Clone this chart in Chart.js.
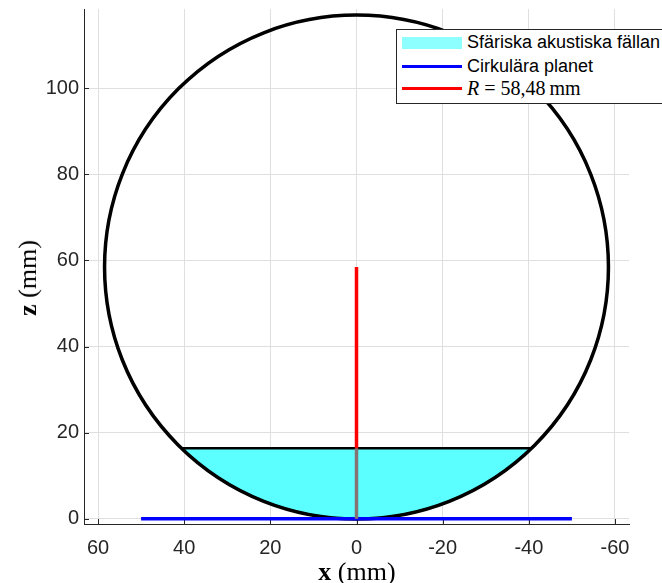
<!DOCTYPE html>
<html>
<head>
<meta charset="utf-8">
<script src="https://cdn.jsdelivr.net/npm/chart.js@4/dist/chart.umd.min.js"></script>
<style>
  html, body { margin: 0; padding: 0; background: #fff; overflow: hidden; }
  #wrap { position: relative; width: 662px; height: 583px; }
  #chart { position: absolute; left: 0; top: 0; }
  .legend { position: absolute; left: 396px; top: 29px; width: 300px; height: 75px;
            border: 1px solid #262626; background: #fff; box-sizing: border-box; }
  .sw { position: absolute; left: 5px; width: 60px; }
  .lbl { position: absolute; left: 70px; height: 22px; line-height: 22px; white-space: nowrap;
         font-family: "Liberation Sans", Arial, sans-serif; font-size: 18px; color: #000; }
  .tex { font-family: "Liberation Serif", "Times New Roman", serif; font-size: 20px; }
  .ax { position: absolute; white-space: nowrap; line-height: 1;
        font-family: "Liberation Serif", "Times New Roman", serif; font-size: 26px; color: #000; }
</style>
</head>
<body>
<div id="wrap">
  <canvas id="chart" width="662" height="583"></canvas>
  <div class="legend" id="legend"></div>
  <div class="ax" id="xTitle" style="left:357px; top:572px; transform:translate(-50%,-50%);"><b>x</b> (mm)</div>
  <div class="ax" id="yTitle" style="left:28px; top:278px; transform:translate(-50%,-50%) rotate(-90deg);"><b>z</b> (mm)</div>
</div>
<script>
// Sphere geometry, all in mm
const R = 58.48;                       // sphere radius
const sphereCenterX = [0];
const sphereCenterZ = [58.48];
const capTopZ = 16.4;                  // upper edge of the filled cap
const planeX = [-50, 50];              // circular plane at z = 0
const planeZ = [0, 0];
const radiusX = [0, 0, 0];             // radius marker from the bottom to the centre
const radiusZ = [0, 16.4, 58.48];

// Axes
const xTicks = [60, 40, 20, 0, -20, -40, -60];
const zTicks = [0, 20, 40, 60, 80, 100];
const xRange = [-63.25, 63.25];
const zRange = [-1.2, 118.4];

// Legend entries
const legendNames = ['Sfäriska akustiska fällan', 'Cirkulära planet'];

const colors = {
  cap: '#5cffff',
  capLegend: '#8dffff',
  plane: '#0000ff',
  radius: '#ff0000',
  radiusInCap: '#857373',
  edge: '#000000',
  axis: '#262626',
  grid: '#dfdfdf'
};

// chord where the cap meets the sphere
const capHalf = Math.sqrt(R * R - (R - capTopZ) * (R - capTopZ));
const chordX = [-capHalf, capHalf];
const chordZ = [capTopZ, capTopZ];

const pts = (xs, zs) => xs.map((x, i) => ({ x: x, y: zs[i] }));

// sphere radius expressed in pixels through the x scale
const pxRadius = (ctx) => {
  const s = ctx.chart.scales.x;
  return Math.abs(s.getPixelForValue(R) - s.getPixelForValue(0));
};

// keeps a dataset below a given z level
const capClip = {
  id: 'capClip',
  beforeDatasetDraw(chart, args) {
    const ds = chart.data.datasets[args.index];
    if (ds.clipBelow === undefined) return;
    const a = chart.chartArea;
    const yp = chart.scales.y.getPixelForValue(ds.clipBelow);
    chart.ctx.save();
    chart.ctx.beginPath();
    chart.ctx.rect(a.left, yp, a.right - a.left, a.bottom - yp);
    chart.ctx.clip();
  },
  afterDatasetDraw(chart, args) {
    if (chart.data.datasets[args.index].clipBelow === undefined) return;
    chart.ctx.restore();
  }
};

// short tick marks pointing into the plot
const innerTicks = {
  id: 'innerTicks',
  beforeDatasetsDraw(chart) {
    const { ctx, chartArea: a, scales: { x, y } } = chart;
    ctx.save();
    ctx.strokeStyle = colors.axis;
    ctx.lineWidth = 1;
    ctx.beginPath();
    xTicks.forEach(v => {
      const p = Math.round(x.getPixelForValue(v)) + 0.5;
      ctx.moveTo(p, a.bottom); ctx.lineTo(p, a.bottom - 5);
    });
    zTicks.forEach(v => {
      const p = Math.round(y.getPixelForValue(v)) + 0.5;
      ctx.moveTo(a.left, p); ctx.lineTo(a.left + 5, p);
    });
    ctx.stroke();
    ctx.restore();
  }
};

const tickFont = { family: '"Liberation Sans", Arial, sans-serif', size: 20 };

new Chart(document.getElementById('chart'), {
  type: 'scatter',
  data: {
    datasets: [
      {
        label: legendNames[0],
        data: pts(sphereCenterX, sphereCenterZ),
        pointRadius: pxRadius, pointHoverRadius: pxRadius,
        backgroundColor: colors.cap, borderColor: colors.edge, borderWidth: 2,
        clipBelow: capTopZ, order: 6
      },
      {
        label: 'sphere',
        data: pts(sphereCenterX, sphereCenterZ),
        pointRadius: pxRadius, pointHoverRadius: pxRadius,
        backgroundColor: 'rgba(0,0,0,0)', borderColor: colors.edge, borderWidth: 3.5,
        order: 5
      },
      {
        label: 'chord',
        data: pts(chordX, chordZ),
        showLine: true, pointRadius: 0, borderColor: colors.edge, borderWidth: 2.5,
        order: 4
      },
      {
        label: legendNames[1],
        data: pts(planeX, planeZ),
        showLine: true, pointRadius: 0, borderColor: colors.plane, borderWidth: 3.5,
        order: 2
      },
      {
        label: 'R',
        data: pts(radiusX, radiusZ),
        showLine: true, pointRadius: 0, borderColor: colors.radius, borderWidth: 3.5,
        segment: {
          borderColor: c => (c.p1.parsed.y <= capTopZ + 1e-9 ? colors.radiusInCap : colors.radius)
        },
        order: 1
      }
    ]
  },
  options: {
    responsive: false,
    animation: false,
    events: [],
    devicePixelRatio: 1,
    layout: { padding: { top: 9, right: 33, left: 0, bottom: 0 } },
    plugins: { legend: { display: false }, tooltip: { enabled: false } },
    scales: {
      x: {
        type: 'linear', reverse: true, min: xRange[0], max: xRange[1],
        afterBuildTicks: s => { s.ticks = xTicks.map(v => ({ value: v })); },
        afterFit: s => { s.height = 59; s.paddingLeft = 0; s.paddingRight = 0; },
        ticks: { color: colors.axis, font: tickFont, padding: 12, maxRotation: 0,
                 callback: v => String(v) },
        grid: { color: colors.grid, drawTicks: false },
        border: { color: colors.axis, width: 1 }
      },
      y: {
        type: 'linear', min: zRange[0], max: zRange[1],
        afterBuildTicks: s => { s.ticks = zTicks.map(v => ({ value: v })); },
        afterFit: s => { s.width = 84; s.paddingTop = 0; s.paddingBottom = 0; },
        ticks: { color: colors.axis, font: tickFont, padding: 5, callback: v => String(v) },
        grid: { color: colors.grid, drawTicks: false },
        border: { color: colors.axis, width: 1 }
      }
    }
  },
  plugins: [capClip, innerTicks]
});

// legend box
const rows = [
  { kind: 'patch', color: colors.capLegend, text: legendNames[0], top: 1 },
  { kind: 'line', color: colors.plane, text: legendNames[1], top: 25 },
  { kind: 'line', color: colors.radius, tex: true, top: 47 }
];
const legend = document.getElementById('legend');
rows.forEach(r => {
  const sw = document.createElement('div');
  sw.className = 'sw';
  if (r.kind === 'patch') {
    sw.style.top = (r.top + 6) + 'px'; sw.style.height = '12px'; sw.style.background = r.color;
  } else {
    sw.style.top = (r.top + 9.5) + 'px'; sw.style.height = '3px'; sw.style.background = r.color;
  }
  legend.appendChild(sw);
  const lb = document.createElement('div');
  lb.className = 'lbl';
  lb.style.top = r.top + 'px';
  if (r.tex) {
    lb.classList.add('tex');
    lb.innerHTML = '<i>R</i>&nbsp;=&nbsp;' + R.toFixed(2).replace('.', ',') + '&thinsp;mm';
  } else {
    lb.textContent = r.text;
  }
  legend.appendChild(lb);
});
</script>
</body>
</html>
